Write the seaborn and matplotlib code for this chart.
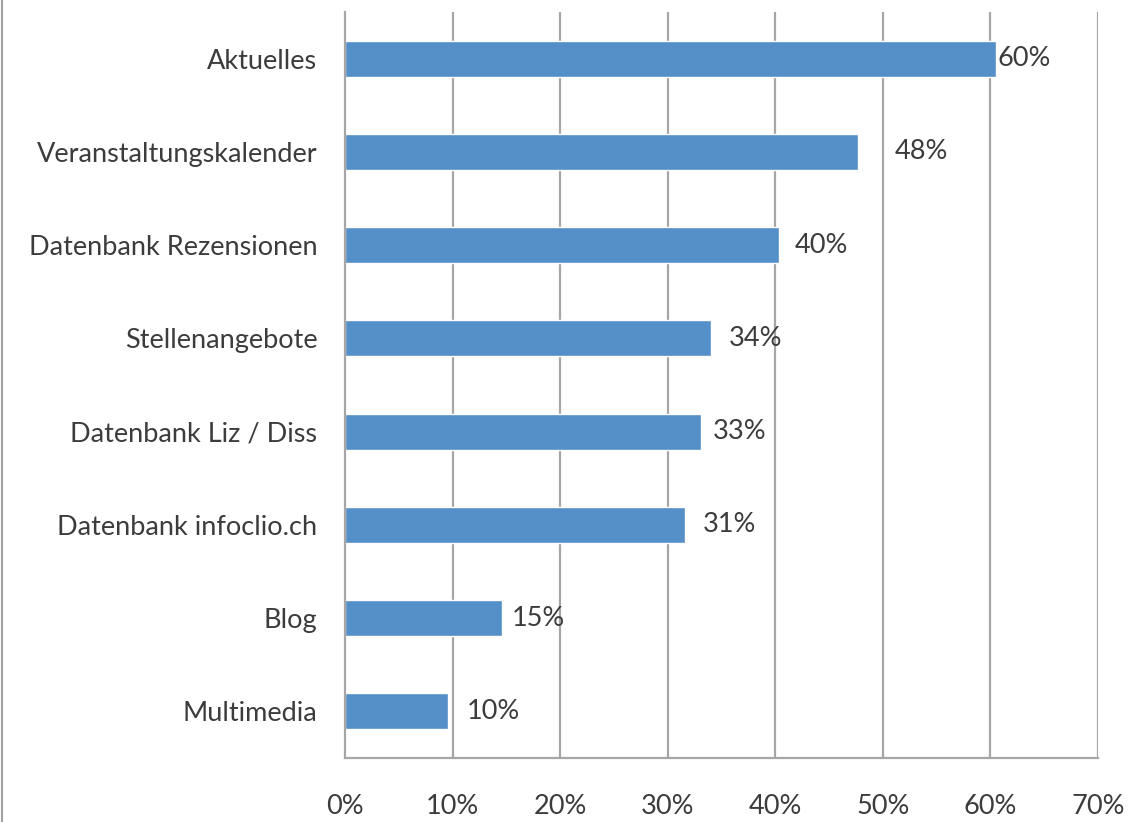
import matplotlib
matplotlib.use("Agg")
import matplotlib.pyplot as plt
import seaborn as sns
import pandas as pd
from matplotlib.lines import Line2D

categories = ["Aktuelles", "Veranstaltungskalender", "Datenbank Rezensionen",
              "Stellenangebote", "Datenbank Liz / Diss", "Datenbank infoclio.ch",
              "Blog", "Multimedia"]
values = [60.5, 47.7, 40.3, 34.0, 33.1, 31.6, 14.6, 9.6]
value_labels = ["60%", "48%", "40%", "34%", "33%", "31%", "15%", "10%"]
x_ticks = [0, 10, 20, 30, 40, 50, 60, 70]
x_tick_labels = ["0%", "10%", "20%", "30%", "40%", "50%", "60%", "70%"]

# label gaps after bar end (pixels), layout only
label_gaps = [2, 37, 16, 18, 12, 18, 10, 19]

df = pd.DataFrame({"Kategorie": categories, "Wert": values})

sns.set_theme(style="white")
plt.rcParams["font.family"] = ["Lato", "DejaVu Sans"]

text_color = "#3c3c3c"
grid_color = "#a6a6a6"
bar_color = "#558fc8"
fs = 19.5

fig = plt.figure(figsize=(11.3, 8.22), dpi=100)
ax = fig.add_axes([345 / 1130, 1 - 758 / 822, (1098 - 345) / 1130, (758 - 12) / 822])

sns.barplot(data=df, y="Kategorie", x="Wert", orient="h", color=bar_color,
            saturation=1, width=0.385, ax=ax, order=categories)

ax.set_xlim(0, 70)
ax.set_ylim(len(categories) - 0.5, -0.5)
ax.set_xticks(x_ticks)
ax.set_xticklabels(x_tick_labels)
ax.set_xlabel("")
ax.set_ylabel("")

for x in x_ticks[1:]:
    ax.axvline(x, color=grid_color, lw=1.6, zorder=0)
ax.set_axisbelow(True)

for sp in ["top", "right"]:
    ax.spines[sp].set_visible(False)
for sp in ["left", "bottom"]:
    ax.spines[sp].set_color(grid_color)
    ax.spines[sp].set_linewidth(1.6)

ax.tick_params(axis="x", length=0, pad=26, labelsize=fs, labelcolor=text_color)
ax.tick_params(axis="y", length=0, pad=20, labelsize=fs, labelcolor=text_color)

for i, (v, lab, g) in enumerate(zip(values, value_labels, label_gaps)):
    ax.annotate(lab, xy=(v, i), xytext=(g * 0.72, 0), textcoords="offset points",
                ha="left", va="center", fontsize=fs, color=text_color)

fig.add_artist(Line2D([1.5 / 1130, 1.5 / 1130], [0, 1], transform=fig.transFigure,
                      color="#a0a0a0", lw=1.5))

fig.savefig("out.png", dpi=100)
